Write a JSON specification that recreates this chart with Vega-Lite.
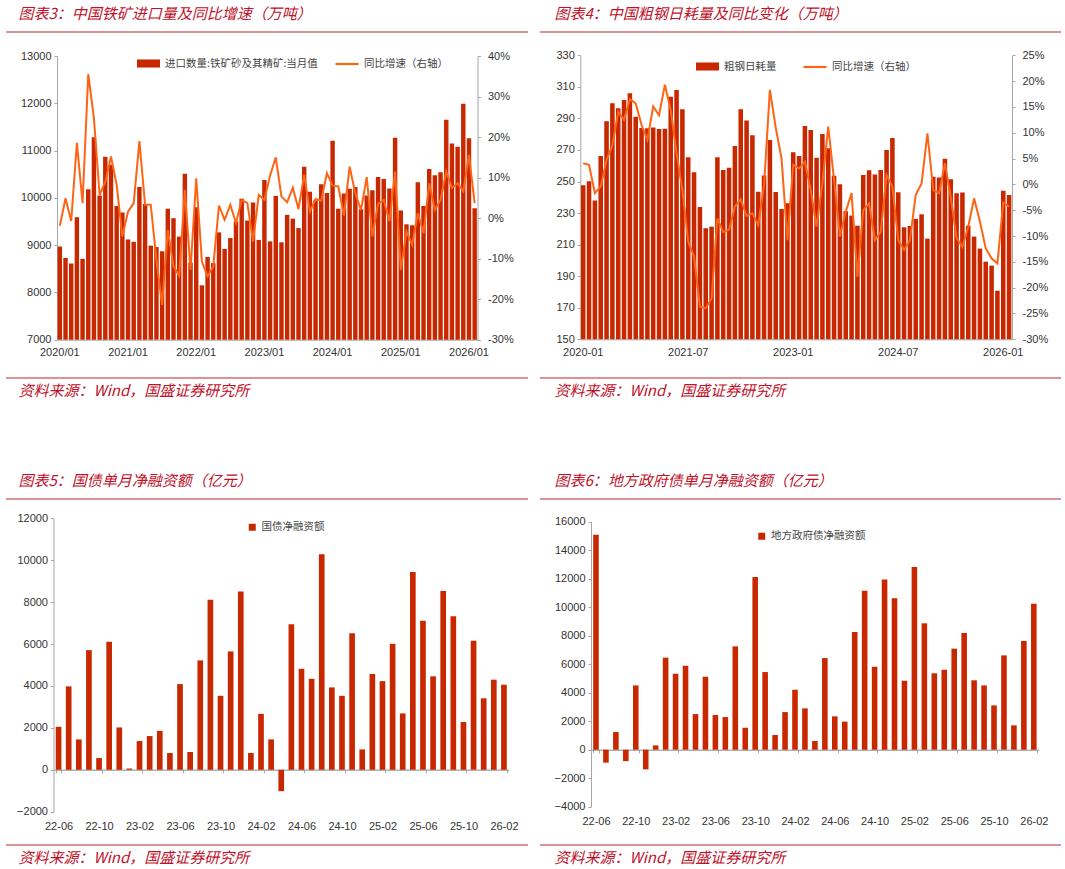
{
  "padding": {"left": 5, "top": 6, "right": 0, "bottom": 0},
  "autosize": {"type": "pad"},
  "spacing": 75,
  "config": {
    "view": {"stroke": null},
    "axis": {"labelFont": "Liberation Sans", "labelFontSize": 11, "labelColor": "#333333", "domainColor": "#a6a6a6", "tickColor": "#a6a6a6", "grid": false, "labelFlush": false, "labelOverlap": false, "titleFont": "Noto Sans CJK SC", "titleFontSize": 15, "titleFontStyle": "italic", "titleFontWeight": "normal", "titleColor": "#c0102a", "titleAngle": 0, "titleAlign": "left", "titleBaseline": "middle", "titleAnchor": "start", "titlePadding": 0},
    "legend": {"orient": "none", "title": null, "padding": 0, "labelFont": "Noto Sans CJK SC", "labelFontSize": 10.5, "labelColor": "#444444", "labelOffset": 4}
  },
  "datasets": {
    "iron": [
      {"m":"2020/01","v":8970,"p":-1.9},{"m":"2020/02","v":8730,"p":4.9},{"m":"2020/03","v":8610,"p":-0.7},{"m":"2020/04","v":9590,"p":18.6},{"m":"2020/05","v":8710,"p":3.7},{"m":"2020/06","v":10180,"p":35.5},{"m":"2020/07","v":11280,"p":24.6},{"m":"2020/08","v":10050,"p":5.7},{"m":"2020/09","v":10870,"p":9.0},{"m":"2020/10","v":10700,"p":15.2},{"m":"2020/11","v":9830,"p":8.2},{"m":"2020/12","v":9690,"p":-4.5},
      {"m":"2021/01","v":9120,"p":1.6},{"m":"2021/02","v":9070,"p":3.7},{"m":"2021/03","v":10230,"p":19.0},{"m":"2021/04","v":9870,"p":3.3},{"m":"2021/05","v":8990,"p":3.3},{"m":"2021/06","v":8960,"p":-10.3},{"m":"2021/07","v":8870,"p":-21.4},{"m":"2021/08","v":9770,"p":-2.9},{"m":"2021/09","v":9570,"p":-11.9},{"m":"2021/10","v":9180,"p":-14.2},{"m":"2021/11","v":10510,"p":7.0},{"m":"2021/12","v":8630,"p":-12.8},
      {"m":"2022/01","v":9800,"p":9.8},{"m":"2022/02","v":8150,"p":-10.7},{"m":"2022/03","v":8750,"p":-14.4},{"m":"2022/04","v":8620,"p":-11.9},{"m":"2022/05","v":9270,"p":3.1},{"m":"2022/06","v":8920,"p":-0.4},{"m":"2022/07","v":9150,"p":3.3},{"m":"2022/08","v":9500,"p":-1.2},{"m":"2022/09","v":9980,"p":4.5},{"m":"2022/10","v":9520,"p":3.7},{"m":"2022/11","v":9900,"p":-5.8},{"m":"2022/12","v":9110,"p":5.7},
      {"m":"2023/01","v":10380,"p":4.5},{"m":"2023/02","v":9080,"p":10.5},{"m":"2023/03","v":10040,"p":15.0},{"m":"2023/04","v":9060,"p":5.3},{"m":"2023/05","v":9640,"p":3.9},{"m":"2023/06","v":9560,"p":7.5},{"m":"2023/07","v":9360,"p":2.2},{"m":"2023/08","v":10660,"p":10.7},{"m":"2023/09","v":10130,"p":1.6},{"m":"2023/10","v":9950,"p":4.7},{"m":"2023/11","v":10290,"p":4.3},{"m":"2023/12","v":10100,"p":11.1},
      {"m":"2024/01","v":11210,"p":8.0},{"m":"2024/02","v":9770,"p":7.8},{"m":"2024/03","v":10090,"p":0.6},{"m":"2024/04","v":10190,"p":12.7},{"m":"2024/05","v":10230,"p":6.1},{"m":"2024/06","v":9760,"p":2.0},{"m":"2024/07","v":10050,"p":10.1},{"m":"2024/08","v":10160,"p":-4.5},{"m":"2024/09","v":10440,"p":3.5},{"m":"2024/10","v":10400,"p":4.5},{"m":"2024/11","v":10200,"p":-0.8},{"m":"2024/12","v":11270,"p":11.5},
      {"m":"2025/01","v":9730,"p":-12.8},{"m":"2025/02","v":9440,"p":-3.3},{"m":"2025/03","v":9420,"p":-6.6},{"m":"2025/04","v":10330,"p":1.2},{"m":"2025/05","v":9830,"p":-3.7},{"m":"2025/06","v":10610,"p":8.6},{"m":"2025/07","v":10480,"p":2.0},{"m":"2025/08","v":10540,"p":4.5},{"m":"2025/09","v":11650,"p":11.5},{"m":"2025/10","v":11150,"p":7.4},{"m":"2025/11","v":11080,"p":8.6},{"m":"2025/12","v":11990,"p":6.6},
      {"m":"2026/01","v":11260,"p":15.6},{"m":"2026/02","v":9780,"p":3.7}
    ],
    "steel": [
      {"m":"2020-01","v":247.6,"p":4.1},{"m":"2020-02","v":250.1,"p":3.8},{"m":"2020-03","v":237.9,"p":-1.7},{"m":"2020-04","v":266.2,"p":-0.4},{"m":"2020-05","v":288.2,"p":4.7},{"m":"2020-06","v":299.6,"p":7.6},{"m":"2020-07","v":296.4,"p":14.1},{"m":"2020-08","v":301.7,"p":12.5},{"m":"2020-09","v":305.9,"p":16.5},{"m":"2020-10","v":291.1,"p":15.7},{"m":"2020-11","v":284.0,"p":11.5},{"m":"2020-12","v":283.7,"p":8.6},
      {"m":"2021-01","v":284.2,"p":15.1},{"m":"2021-02","v":283.3,"p":13.4},{"m":"2021-03","v":283.5,"p":19.3},{"m":"2021-04","v":303.8,"p":14.4},{"m":"2021-05","v":308.0,"p":6.0},{"m":"2021-06","v":295.8,"p":-1.1},{"m":"2021-07","v":265.4,"p":-11.1},{"m":"2021-08","v":255.9,"p":-14.0},{"m":"2021-09","v":233.9,"p":-23.7},{"m":"2021-10","v":220.4,"p":-24.0},{"m":"2021-11","v":221.4,"p":-22.1},{"m":"2021-12","v":265.4,"p":-6.6},
      {"m":"2022-01","v":257.3,"p":-9.2},{"m":"2022-02","v":258.8,"p":-8.8},{"m":"2022-03","v":272.5,"p":-4.3},{"m":"2022-04","v":295.8,"p":-2.9},{"m":"2022-05","v":288.6,"p":-6.1},{"m":"2022-06","v":279.3,"p":-5.6},{"m":"2022-07","v":243.5,"p":-7.9},{"m":"2022-08","v":253.8,"p":-0.1},{"m":"2022-09","v":276.3,"p":18.3},{"m":"2022-10","v":243.4,"p":11.0},{"m":"2022-11","v":232.6,"p":5.0},{"m":"2022-12","v":236.2,"p":-10.8},
      {"m":"2023-01","v":268.5,"p":3.8},{"m":"2023-02","v":266.2,"p":3.1},{"m":"2023-03","v":285.2,"p":4.4},{"m":"2023-04","v":282.7,"p":-1.1},{"m":"2023-05","v":265.1,"p":-8.2},{"m":"2023-06","v":280.1,"p":0.2},{"m":"2023-07","v":271.1,"p":11.2},{"m":"2023-08","v":253.7,"p":0.9},{"m":"2023-09","v":248.2,"p":-10.1},{"m":"2023-10","v":231.1,"p":-5.3},{"m":"2023-11","v":228.4,"p":-1.7},{"m":"2023-12","v":222.0,"p":-17.9},
      {"m":"2024-01","v":254.2,"p":-5.0},{"m":"2024-02","v":257.1,"p":-3.7},{"m":"2024-03","v":254.4,"p":-10.8},{"m":"2024-04","v":257.3,"p":-9.2},{"m":"2024-05","v":270.0,"p":1.8},{"m":"2024-06","v":277.6,"p":-0.4},{"m":"2024-07","v":243.2,"p":-10.8},{"m":"2024-08","v":221.0,"p":-12.7},{"m":"2024-09","v":221.8,"p":-10.8},{"m":"2024-10","v":226.3,"p":-2.0},{"m":"2024-11","v":229.2,"p":0.2},{"m":"2024-12","v":213.8,"p":9.9},
      {"m":"2025-01","v":253.1,"p":-1.1},{"m":"2025-02","v":252.5,"p":-1.7},{"m":"2025-03","v":264.5,"p":4.1},{"m":"2025-04","v":251.4,"p":-2.4},{"m":"2025-05","v":242.5,"p":-10.4},{"m":"2025-06","v":243.0,"p":-12.1},{"m":"2025-07","v":222.0,"p":-8.2},{"m":"2025-08","v":215.1,"p":-2.7},{"m":"2025-09","v":207.5,"p":-7.2},{"m":"2025-10","v":199.2,"p":-12.4},{"m":"2025-11","v":196.7,"p":-14.3},{"m":"2025-12","v":180.8,"p":-15.3},
      {"m":"2026-01","v":244.2,"p":-3.5},{"m":"2026-02","v":241.5,"p":-4.3}
    ],
    "gov": [
      {"m":"22-06","v":2050},{"m":"22-07","v":3980},{"m":"22-08","v":1450},{"m":"22-09","v":5710},{"m":"22-10","v":560},{"m":"22-11","v":6110},{"m":"22-12","v":2020},
      {"m":"23-01","v":60},{"m":"23-02","v":1370},{"m":"23-03","v":1610},{"m":"23-04","v":1860},{"m":"23-05","v":800},{"m":"23-06","v":4090},{"m":"23-07","v":850},{"m":"23-08","v":5220},{"m":"23-09","v":8110},{"m":"23-10","v":3530},{"m":"23-11","v":5650},{"m":"23-12","v":8510},
      {"m":"24-01","v":800},{"m":"24-02","v":2670},{"m":"24-03","v":1450},{"m":"24-04","v":-1020},{"m":"24-05","v":6950},{"m":"24-06","v":4820},{"m":"24-07","v":4340},{"m":"24-08","v":10280},{"m":"24-09","v":3930},{"m":"24-10","v":3530},{"m":"24-11","v":6510},{"m":"24-12","v":970},
      {"m":"25-01","v":4570},{"m":"25-02","v":4230},{"m":"25-03","v":6010},{"m":"25-04","v":2690},{"m":"25-05","v":9440},{"m":"25-06","v":7110},{"m":"25-07","v":4460},{"m":"25-08","v":8530},{"m":"25-09","v":7330},{"m":"25-10","v":2280},{"m":"25-11","v":6160},{"m":"25-12","v":3410},
      {"m":"26-01","v":4300},{"m":"26-02","v":4060}
    ],
    "local": [
      {"m":"22-06","v":15090},{"m":"22-07","v":-910},{"m":"22-08","v":1240},{"m":"22-09","v":-800},{"m":"22-10","v":4510},{"m":"22-11","v":-1380},{"m":"22-12","v":300},
      {"m":"23-01","v":6460},{"m":"23-02","v":5330},{"m":"23-03","v":5890},{"m":"23-04","v":2500},{"m":"23-05","v":5120},{"m":"23-06","v":2430},{"m":"23-07","v":2290},{"m":"23-08","v":7250},{"m":"23-09","v":1540},{"m":"23-10","v":12120},{"m":"23-11","v":5450},{"m":"23-12","v":1030},
      {"m":"24-01","v":2640},{"m":"24-02","v":4210},{"m":"24-03","v":2900},{"m":"24-04","v":610},{"m":"24-05","v":6430},{"m":"24-06","v":2340},{"m":"24-07","v":1970},{"m":"24-08","v":8260},{"m":"24-09","v":11160},{"m":"24-10","v":5820},{"m":"24-11","v":11950},{"m":"24-12","v":10620},
      {"m":"25-01","v":4840},{"m":"25-02","v":12820},{"m":"25-03","v":8870},{"m":"25-04","v":5360},{"m":"25-05","v":5610},{"m":"25-06","v":7090},{"m":"25-07","v":8190},{"m":"25-08","v":4870},{"m":"25-09","v":4510},{"m":"25-10","v":3110},{"m":"25-11","v":6620},{"m":"25-12","v":1710},
      {"m":"26-01","v":7630},{"m":"26-02","v":10250}
    ]
  },
  "resolve": {"scale": {"fill": "independent", "stroke": "independent"}, "legend": {"fill": "independent", "stroke": "independent"}},
  "vconcat": [
    {
      "hconcat": [
        {
          "width": 522, "height": 346,
          "data": {"name": "iron"},
          "layer": [
            {"mark": {"type": "bar"},
             "encoding": {
               "x": {"field": "m", "type": "ordinal", "sort": null,
                 "scale": {"range": [51, 471.5], "paddingInner": 0.22, "paddingOuter": 0.11},
                 "axis": {"orient": "bottom", "offset": -38.3, "values": ["2020/01","2021/01","2022/01","2023/01","2024/01","2025/01","2026/01"], "ticks": false, "labelPadding": 7, "labelAngle": 0,
                   "title": "资料来源：Wind，国盛证券研究所", "titleX": 12, "titleY": 50.3}},
               "y": {"field": "v", "type": "quantitative",
                 "scale": {"domain": [7000, 13000], "range": [307.7, 24], "nice": false, "zero": false},
                 "axis": {"orient": "left", "offset": -51, "values": [7000,8000,9000,10000,11000,12000,13000], "format": "d", "tickSize": 3, "labelPadding": 3,
                   "title": "图表3：中国铁矿进口量及同比增速（万吨）", "titleX": -39, "titleY": -18.4}},
               "y2": {"datum": 7000},
               "fill": {"datum": "进口数量:铁矿砂及其精矿:当月值", "type": "nominal", "scale": {"range": ["#c82800"]},
                 "legend": {"legendX": 130, "legendY": 19, "symbolType": "M-1,-0.35H1V0.35H-1Z", "symbolSize": 529}}
             }},
            {"mark": {"type": "line", "strokeWidth": 2},
             "encoding": {
               "x": {"field": "m", "type": "ordinal", "sort": null},
               "y": {"field": "p", "type": "quantitative",
                 "scale": {"domain": [-30, 40], "range": [307.7, 24], "nice": false, "zero": false},
                 "axis": {"orient": "right", "offset": -50.5, "values": [-30,-20,-10,0,10,20,30,40], "tickSize": 3, "labelPadding": 7, "labelExpr": "datum.value + '%'", "title": null}},
               "stroke": {"datum": "同比增速（右轴）", "type": "nominal", "scale": {"range": ["#ff6414"]},
                 "legend": {"legendX": 328, "legendY": 19, "symbolType": "stroke", "symbolSize": 529, "symbolStrokeWidth": 2.2}}
             }},
            {"data": {"values": [{}]}, "mark": {"type": "rule", "color": "#d46e72", "strokeWidth": 1.5},
             "encoding": {"y": {"datum": 0, "type": "quantitative", "scale": {"domain": [0, 346], "range": [0, 346], "nice": false, "zero": false}, "axis": null}}},
            {"data": {"values": [{}]}, "mark": {"type": "rule", "color": "#d46e72", "strokeWidth": 1.5},
             "encoding": {"y": {"datum": 346, "type": "quantitative", "scale": {"domain": [0, 346], "range": [0, 346], "nice": false, "zero": false}, "axis": null}}}
          ],
          "resolve": {"scale": {"y": "independent"}}
        },
        {
          "width": 521, "height": 346,
          "data": {"name": "steel"},
          "layer": [
            {"mark": {"type": "bar"},
             "encoding": {
               "x": {"field": "m", "type": "ordinal", "sort": null,
                 "scale": {"range": [40.3, 472], "paddingInner": 0.22, "paddingOuter": 0.11},
                 "axis": {"orient": "bottom", "offset": -38.7, "values": ["2020-01","2021-07","2023-01","2024-07","2026-01"], "ticks": false, "labelPadding": 7, "labelAngle": 0,
                   "title": "资料来源：Wind，国盛证券研究所", "titleX": 14, "titleY": 50.7}},
               "y": {"field": "v", "type": "quantitative",
                 "scale": {"domain": [150, 330], "range": [307.3, 23.3], "nice": false, "zero": false},
                 "axis": {"orient": "left", "offset": -40.3, "values": [150,170,190,210,230,250,270,290,310,330], "tickSize": 3, "labelPadding": 3,
                   "title": "图表4：中国粗钢日耗量及同比变化（万吨）", "titleX": -26.3, "titleY": -18.4}},
               "y2": {"datum": 150},
               "fill": {"datum": "粗钢日耗量", "type": "nominal", "scale": {"range": ["#c82800"]},
                 "legend": {"legendX": 155, "legendY": 22, "symbolType": "M-1,-0.35H1V0.35H-1Z", "symbolSize": 529}}
             }},
            {"mark": {"type": "line", "strokeWidth": 2},
             "encoding": {
               "x": {"field": "m", "type": "ordinal", "sort": null},
               "y": {"field": "p", "type": "quantitative",
                 "scale": {"domain": [-30, 25], "range": [307.3, 23.3], "nice": false, "zero": false},
                 "axis": {"orient": "right", "offset": -49, "values": [-30,-25,-20,-15,-10,-5,0,5,10,15,20,25], "tickSize": 3, "labelPadding": 7, "labelExpr": "datum.value + '%'", "title": null}},
               "stroke": {"datum": "同比增速（右轴）", "type": "nominal", "scale": {"range": ["#ff6414"]},
                 "legend": {"legendX": 262, "legendY": 22, "symbolType": "stroke", "symbolSize": 529, "symbolStrokeWidth": 2.2}}
             }},
            {"data": {"values": [{}]}, "mark": {"type": "rule", "color": "#d46e72", "strokeWidth": 1.5},
             "encoding": {"y": {"datum": 0, "type": "quantitative", "scale": {"domain": [0, 346], "range": [0, 346], "nice": false, "zero": false}, "axis": null}}},
            {"data": {"values": [{}]}, "mark": {"type": "rule", "color": "#d46e72", "strokeWidth": 1.5},
             "encoding": {"y": {"datum": 346, "type": "quantitative", "scale": {"domain": [0, 346], "range": [0, 346], "nice": false, "zero": false}, "axis": null}}}
          ],
          "resolve": {"scale": {"y": "independent"}}
        }
      ],
      "spacing": 12,
      "bounds": "flush",
      "resolve": {"scale": {"fill": "independent", "stroke": "independent"}, "legend": {"fill": "independent", "stroke": "independent"}}
    },
    {
      "hconcat": [
        {
          "width": 522, "height": 346,
          "data": {"name": "gov"},
          "layer": [
            {"mark": {"type": "bar"},
             "encoding": {
               "x": {"field": "m", "type": "ordinal", "sort": null,
                 "scale": {"range": [47.5, 503], "paddingInner": 0.44, "paddingOuter": 0.22},
                 "axis": {"orient": "bottom", "offset": -75.3, "values": ["22-06","22-10","23-02","23-06","23-10","24-02","24-06","24-10","25-02","25-06","25-10","26-02"], "ticks": true, "tickSize": 3, "tickBand": "extent", "labelPadding": 47.8, "labelAngle": 0, "domainColor": "#8c8c8c",
                   "title": "资料来源：Wind，国盛证券研究所", "titleX": 12, "titleY": 87.3}},
               "y": {"field": "v", "type": "quantitative",
                 "scale": {"domain": [-2000, 12000], "range": [312.7, 19.3], "nice": false, "zero": false},
                 "axis": {"orient": "left", "offset": -47.5, "values": [-2000,0,2000,4000,6000,8000,10000,12000], "format": "d", "tickSize": 3, "labelPadding": 3,
                   "title": "图表5：国债单月净融资额（亿元）", "titleX": -35.5, "titleY": -18.4}},
               "y2": {"datum": 0},
               "fill": {"datum": "国债净融资额", "type": "nominal", "scale": {"range": ["#c82800"]},
                 "legend": {"legendX": 241, "legendY": 23, "symbolType": "square", "symbolSize": 49}}
             }},
            {"data": {"values": [{}]}, "mark": {"type": "rule", "color": "#d46e72", "strokeWidth": 1.5},
             "encoding": {"y": {"datum": 0, "type": "quantitative", "scale": {"domain": [0, 346], "range": [0, 346], "nice": false, "zero": false}, "axis": null}}},
            {"data": {"values": [{}]}, "mark": {"type": "rule", "color": "#d46e72", "strokeWidth": 1.5},
             "encoding": {"y": {"datum": 346, "type": "quantitative", "scale": {"domain": [0, 346], "range": [0, 346], "nice": false, "zero": false}, "axis": null}}}
          ],
          "resolve": {"scale": {"y": "independent"}}
        },
        {
          "width": 521, "height": 346,
          "data": {"name": "local"},
          "layer": [
            {"mark": {"type": "bar"},
             "encoding": {
               "x": {"field": "m", "type": "ordinal", "sort": null,
                 "scale": {"range": [51, 498.8], "paddingInner": 0.44, "paddingOuter": 0.22},
                 "axis": {"orient": "bottom", "offset": -95.3, "values": ["22-06","22-10","23-02","23-06","23-10","24-02","24-06","24-10","25-02","25-06","25-10","26-02"], "ticks": true, "tickSize": 3, "tickBand": "extent", "labelPadding": 62.8, "labelAngle": 0, "domainColor": "#8c8c8c",
                   "title": "资料来源：Wind，国盛证券研究所", "titleX": 14, "titleY": 107.3}},
               "y": {"field": "v", "type": "quantitative",
                 "scale": {"domain": [-4000, 16000], "range": [307.7, 22.7], "nice": false, "zero": false},
                 "axis": {"orient": "left", "offset": -51, "values": [-4000,-2000,0,2000,4000,6000,8000,10000,12000,14000,16000], "format": "d", "tickSize": 3, "labelPadding": 3,
                   "title": "图表6：地方政府债单月净融资额（亿元）", "titleX": -37, "titleY": -18.4}},
               "y2": {"datum": 0},
               "fill": {"datum": "地方政府债净融资额", "type": "nominal", "scale": {"range": ["#c82800"]},
                 "legend": {"legendX": 216.5, "legendY": 32, "symbolType": "square", "symbolSize": 49}}
             }},
            {"data": {"values": [{}]}, "mark": {"type": "rule", "color": "#d46e72", "strokeWidth": 1.5},
             "encoding": {"y": {"datum": 0, "type": "quantitative", "scale": {"domain": [0, 346], "range": [0, 346], "nice": false, "zero": false}, "axis": null}}},
            {"data": {"values": [{}]}, "mark": {"type": "rule", "color": "#d46e72", "strokeWidth": 1.5},
             "encoding": {"y": {"datum": 346, "type": "quantitative", "scale": {"domain": [0, 346], "range": [0, 346], "nice": false, "zero": false}, "axis": null}}}
          ],
          "resolve": {"scale": {"y": "independent"}}
        }
      ],
      "spacing": 12,
      "bounds": "flush",
      "resolve": {"scale": {"fill": "independent", "stroke": "independent"}, "legend": {"fill": "independent", "stroke": "independent"}}
    }
  ]
}
